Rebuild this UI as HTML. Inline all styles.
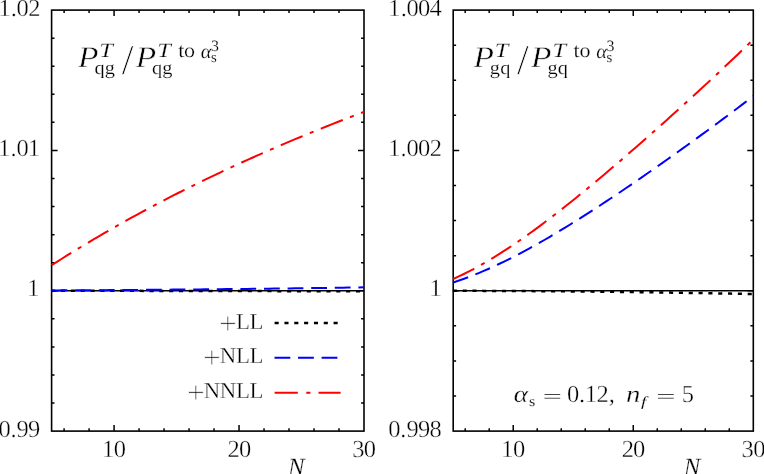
<!DOCTYPE html>
<html lang="en">
<head>
<meta charset="utf-8">
<title>Resummed splitting-function ratios</title>
<style>
html,body{margin:0;padding:0;background:#fff;}
body{width:764px;height:474px;overflow:hidden;font-family:"Liberation Serif",serif;}
svg{display:block;will-change:transform;}
svg text{font-family:"Liberation Serif",serif;fill:#000;text-rendering:geometricPrecision;stroke:#fff;}
</style>
</head>
<body>
<svg width="764" height="474" viewBox="0 0 764 474">
<rect width="764" height="474" fill="#fff"/>
<rect x="51.6" y="10.1" width="312.4" height="421" fill="none" stroke="#000" stroke-width="1.6"/>
<path d="M64.1 431.1v-2.9M64.1 10.1v2.9M89.09 431.1v-2.9M89.09 10.1v2.9M114.08 431.1v-6.0M114.08 10.1v6.0M139.07 431.1v-2.9M139.07 10.1v2.9M164.06 431.1v-2.9M164.06 10.1v2.9M189.06 431.1v-2.9M189.06 10.1v2.9M214.05 431.1v-2.9M214.05 10.1v2.9M239.04 431.1v-6.0M239.04 10.1v6.0M264.03 431.1v-2.9M264.03 10.1v2.9M289.02 431.1v-2.9M289.02 10.1v2.9M314.02 431.1v-2.9M314.02 10.1v2.9M339.01 431.1v-2.9M339.01 10.1v2.9M51.6 290.77h6M364 290.77h-6M51.6 150.43h6M364 150.43h-6M51.6 403.03h2.9M364 403.03h-2.9M51.6 374.97h2.9M364 374.97h-2.9M51.6 346.9h2.9M364 346.9h-2.9M51.6 318.83h2.9M364 318.83h-2.9M51.6 262.7h2.9M364 262.7h-2.9M51.6 234.63h2.9M364 234.63h-2.9M51.6 206.57h2.9M364 206.57h-2.9M51.6 178.5h2.9M364 178.5h-2.9M51.6 122.37h2.9M364 122.37h-2.9M51.6 94.3h2.9M364 94.3h-2.9M51.6 66.23h2.9M364 66.23h-2.9M51.6 38.17h2.9M364 38.17h-2.9" fill="none" stroke="#000" stroke-width="1.5"/>
<rect x="453.2" y="10.1" width="300.1" height="421" fill="none" stroke="#000" stroke-width="1.6"/>
<path d="M465.2 431.1v-2.9M465.2 10.1v2.9M489.21 431.1v-2.9M489.21 10.1v2.9M513.22 431.1v-6.0M513.22 10.1v6.0M537.23 431.1v-2.9M537.23 10.1v2.9M561.24 431.1v-2.9M561.24 10.1v2.9M585.24 431.1v-2.9M585.24 10.1v2.9M609.25 431.1v-2.9M609.25 10.1v2.9M633.26 431.1v-6.0M633.26 10.1v6.0M657.27 431.1v-2.9M657.27 10.1v2.9M681.28 431.1v-2.9M681.28 10.1v2.9M705.28 431.1v-2.9M705.28 10.1v2.9M729.29 431.1v-2.9M729.29 10.1v2.9M453.2 290.77h6M753.3 290.77h-6M453.2 150.43h6M753.3 150.43h-6M453.2 396.02h2.9M753.3 396.02h-2.9M453.2 360.93h2.9M753.3 360.93h-2.9M453.2 325.85h2.9M753.3 325.85h-2.9M453.2 255.68h2.9M753.3 255.68h-2.9M453.2 220.6h2.9M753.3 220.6h-2.9M453.2 185.52h2.9M753.3 185.52h-2.9M453.2 115.35h2.9M753.3 115.35h-2.9M453.2 80.27h2.9M753.3 80.27h-2.9M453.2 45.18h2.9M753.3 45.18h-2.9" fill="none" stroke="#000" stroke-width="1.5"/>
<path d="M51.6 290.77H364.0M453.2 290.77H753.3" stroke="#000" stroke-width="1.7" fill="none"/>
<path d="M51.2 290.7L364.0 291.3" fill="none" stroke="#000" stroke-width="2.5" stroke-dasharray="4.1 5.73" stroke-dashoffset="0"/>
<path d="M452.80 290.80L460.51 290.81L468.21 290.83L475.92 290.85L483.62 290.88L491.33 290.91L499.03 290.94L506.74 290.97L514.44 291.01L522.15 291.06L529.85 291.10L537.56 291.15L545.26 291.21L552.97 291.27L560.67 291.33L568.38 291.39L576.08 291.46L583.79 291.54L591.49 291.61L599.20 291.69L606.90 291.78L614.61 291.86L622.31 291.95L630.02 292.05L637.72 292.15L645.43 292.25L653.13 292.35L660.84 292.46L668.54 292.58L676.25 292.69L683.95 292.81L691.66 292.94L699.36 293.06L707.07 293.20L714.77 293.33L722.48 293.47L730.18 293.61L737.89 293.76L745.59 293.91L753.30 294.06" fill="none" stroke="#000" stroke-width="2.5" stroke-dasharray="4.1 5.73" stroke-dashoffset="0"/>
<path d="M51.60 290.40L56.89 290.38L62.19 290.36L67.48 290.33L72.78 290.30L78.07 290.28L83.37 290.25L88.66 290.22L93.96 290.19L99.25 290.16L104.55 290.13L109.84 290.09L115.14 290.06L120.43 290.02L125.73 289.99L131.02 289.95L136.32 289.91L141.61 289.87L146.91 289.83L152.20 289.79L157.50 289.75L162.79 289.71L168.09 289.67L173.38 289.62L178.68 289.58L183.97 289.53L189.27 289.48L194.56 289.43L199.86 289.38L205.15 289.33L210.45 289.28L215.74 289.23L221.04 289.18L226.33 289.12L231.63 289.07L236.92 289.01L242.22 288.95L247.51 288.89L252.81 288.84L258.10 288.77L263.40 288.71L268.69 288.65L273.99 288.59L279.28 288.52L284.58 288.46L289.87 288.39L295.17 288.33L300.46 288.26L305.76 288.19L311.05 288.12L316.35 288.05L321.64 287.98L326.94 287.90L332.23 287.83L337.53 287.76L342.82 287.68L348.12 287.60L353.41 287.53L358.71 287.45L364.00 287.37" fill="none" stroke="#0000ff" stroke-width="2.0" stroke-dasharray="15.8 7.8" stroke-dashoffset="0"/>
<path d="M453.20 282.49L458.29 280.80L463.37 279.01L468.46 277.13L473.55 275.15L478.63 273.09L483.72 270.94L488.81 268.71L493.89 266.41L498.98 264.03L504.06 261.58L509.15 259.06L514.24 256.47L519.32 253.82L524.41 251.12L529.50 248.35L534.58 245.53L539.67 242.67L544.76 239.75L549.84 236.78L554.93 233.77L560.02 230.72L565.10 227.63L570.19 224.50L575.27 221.33L580.36 218.13L585.45 214.90L590.53 211.63L595.62 208.34L600.71 205.01L605.79 201.67L610.88 198.29L615.97 194.89L621.05 191.47L626.14 188.03L631.23 184.56L636.31 181.08L641.40 177.57L646.48 174.05L651.57 170.51L656.66 166.95L661.74 163.38L666.83 159.79L671.92 156.18L677.00 152.55L682.09 148.91L687.18 145.25L692.26 141.58L697.35 137.89L702.44 134.18L707.52 130.45L712.61 126.71L717.69 122.95L722.78 119.17L727.87 115.37L732.95 111.55L738.04 107.71L743.13 103.84L748.21 99.96L753.30 96.04" fill="none" stroke="#0000ff" stroke-width="2.0" stroke-dasharray="15.8 7.8" stroke-dashoffset="0"/>
<path d="M51.60 265.22L56.89 261.85L62.19 258.52L67.48 255.21L72.78 251.94L78.07 248.70L83.37 245.50L88.66 242.32L93.96 239.17L99.25 236.06L104.55 232.97L109.84 229.92L115.14 226.89L120.43 223.89L125.73 220.93L131.02 217.99L136.32 215.08L141.61 212.19L146.91 209.34L152.20 206.51L157.50 203.71L162.79 200.93L168.09 198.18L173.38 195.46L178.68 192.76L183.97 190.09L189.27 187.44L194.56 184.82L199.86 182.22L205.15 179.64L210.45 177.09L215.74 174.56L221.04 172.06L226.33 169.58L231.63 167.11L236.92 164.68L242.22 162.26L247.51 159.86L252.81 157.49L258.10 155.13L263.40 152.80L268.69 150.48L273.99 148.19L279.28 145.91L284.58 143.65L289.87 141.41L295.17 139.19L300.46 136.99L305.76 134.81L311.05 132.64L316.35 130.49L321.64 128.35L326.94 126.23L332.23 124.13L337.53 122.04L342.82 119.97L348.12 117.91L353.41 115.87L358.71 113.84L364.00 111.83" fill="none" stroke="#ff0000" stroke-width="2.0" stroke-dasharray="23.65 7.75 4.1 7.75" stroke-dashoffset="0.5"/>
<path d="M453.20 279.00L458.29 276.69L463.37 274.25L468.46 271.70L473.55 269.03L478.63 266.25L483.72 263.38L488.81 260.40L493.89 257.33L498.98 254.17L504.06 250.92L509.15 247.59L514.24 244.18L519.32 240.70L524.41 237.15L529.50 233.53L534.58 229.84L539.67 226.10L544.76 222.30L549.84 218.44L554.93 214.53L560.02 210.58L565.10 206.57L570.19 202.53L575.27 198.44L580.36 194.31L585.45 190.15L590.53 185.95L595.62 181.73L600.71 177.47L605.79 173.18L610.88 168.86L615.97 164.52L621.05 160.15L626.14 155.76L631.23 151.35L636.31 146.91L641.40 142.46L646.48 137.98L651.57 133.49L656.66 128.98L661.74 124.45L666.83 119.90L671.92 115.34L677.00 110.75L682.09 106.15L687.18 101.53L692.26 96.89L697.35 92.23L702.44 87.56L707.52 82.86L712.61 78.14L717.69 73.40L722.78 68.64L727.87 63.85L732.95 59.04L738.04 54.20L743.13 49.33L748.21 44.43L753.30 39.50" fill="none" stroke="#ff0000" stroke-width="2.0" stroke-dasharray="23.65 7.75 4.1 7.75" stroke-dashoffset="0.2"/>
<path d="M274.6 323H338.2" stroke="#000" stroke-width="2.5" stroke-dasharray="4.1 5.73" fill="none"/>
<path d="M274.5 357.8H338.2" stroke="#0000ff" stroke-width="2" stroke-dasharray="15.8 7.75" fill="none"/>
<path d="M274.6 392.8H340.6" stroke="#ff0000" stroke-width="2" stroke-dasharray="23.2 8.5 4.1 8.1" fill="none"/>
<text x="-1.59 10.7 16.62 28.3" y="15.5" font-size="24.5" stroke-width="0.37">1.02</text>
<text x="-1.75 10.55 16.46 27.78" y="156.3" font-size="24.5" stroke-width="0.37">1.01</text>
<text x="27.28" y="296.3" font-size="24.5" stroke-width="0.37">1</text>
<text x="-1.54 10.52 16.54 28.09" y="437.1" font-size="24.5" stroke-width="0.37">0.99</text>
<text x="388.35 400.65 406.56 418.11 429.61" y="16.1" font-size="24.5" stroke-width="0.37">1.004</text>
<text x="388.26 400.55 406.47 418.02 429.7" y="156.3" font-size="24.5" stroke-width="0.37">1.002</text>
<text x="429.38" y="296.3" font-size="24.5" stroke-width="0.37">1</text>
<text x="388.31 400.37 406.39 417.94 429.38" y="437.1" font-size="24.5" stroke-width="0.37">0.998</text>
<text x="102.05 113.84" y="456.8" font-size="24.5" stroke-width="0.37">10</text>
<text x="227.53 238.94" y="456.8" font-size="24.5" stroke-width="0.37">20</text>
<text x="352.18 363.84" y="456.8" font-size="24.5" stroke-width="0.37">30</text>
<text x="501.25 513.04" y="456.8" font-size="24.5" stroke-width="0.37">10</text>
<text x="621.63 633.04" y="456.8" font-size="24.5" stroke-width="0.37">20</text>
<text x="741.48 753.14" y="456.8" font-size="24.5" stroke-width="0.37">30</text>
<text x="287.94" y="474.5" font-size="24.8" font-style="italic" stroke-width="0.25">N</text>
<text x="683.69" y="474.5" font-size="24.8" font-style="italic" stroke-width="0.25">N</text>
<text x="235.89 249.59" y="329" font-size="22.8" stroke-width="0.34">LL</text>
<text x="219.75 235.89 249.59" y="363.2" font-size="22.8" stroke-width="0.34">NLL</text>
<text x="203.65 219.75 235.89 249.59" y="398.1" font-size="22.8" stroke-width="0.34">NNLL</text>
<text x="218.95" y="333.86" font-size="31.5" stroke-width="0.75">+</text>
<text x="202.9" y="368.26" font-size="31.5" stroke-width="0.75">+</text>
<text x="187" y="403.16" font-size="31.5" stroke-width="0.75">+</text>
<text x="79.14" y="67.3" font-size="29.7" font-style="italic" transform="matrix(1.130 0 0 1 -11.41 0)" stroke-width="0.52">P</text>
<text x="100.76" y="56.8" font-size="20.4" font-style="italic" transform="matrix(1.200 0 0 1 -21.54 0)" stroke-width="0.25">T</text>
<text x="95.08 104.77" y="73.7" font-size="19.2" transform="matrix(1.060 0 0 1 -6.30 0)" stroke-width="0.20">qg</text>
<text x="121.65" y="73.58" font-size="42.5" stroke-width="0.70">/</text>
<text x="136.84" y="67.3" font-size="29.7" font-style="italic" transform="matrix(1.130 0 0 1 -18.91 0)" stroke-width="0.52">P</text>
<text x="158.56" y="56.8" font-size="20.4" font-style="italic" transform="matrix(1.200 0 0 1 -33.10 0)" stroke-width="0.25">T</text>
<text x="152.68 162.37" y="73.7" font-size="19.2" transform="matrix(1.060 0 0 1 -9.75 0)" stroke-width="0.20">qg</text>
<text x="178.78 184.2" y="57.1" font-size="20.4" transform="matrix(1.080 0 0 1 -14.90 0)" stroke-width="0.20">to</text>
<text x="200.82" y="57.6" font-size="20.4" font-style="italic" stroke-width="0.20">α</text>
<text x="211.03" y="61.95" font-size="14.8" stroke-width="0.10">s</text>
<text x="211.12" y="50.5" font-size="15.84" stroke-width="0.10">3</text>
<text x="474.54" y="67.3" font-size="29.7" font-style="italic" transform="matrix(1.130 0 0 1 -62.81 0)" stroke-width="0.52">P</text>
<text x="496.16" y="56.8" font-size="20.4" font-style="italic" transform="matrix(1.200 0 0 1 -100.62 0)" stroke-width="0.25">T</text>
<text x="490.42 500.23" y="73.7" font-size="19.2" transform="matrix(1.060 0 0 1 -30.02 0)" stroke-width="0.20">gq</text>
<text x="517.05" y="73.58" font-size="42.5" stroke-width="0.70">/</text>
<text x="532.24" y="67.3" font-size="29.7" font-style="italic" transform="matrix(1.130 0 0 1 -70.31 0)" stroke-width="0.52">P</text>
<text x="553.96" y="56.8" font-size="20.4" font-style="italic" transform="matrix(1.200 0 0 1 -112.18 0)" stroke-width="0.25">T</text>
<text x="548.02 557.83" y="73.7" font-size="19.2" transform="matrix(1.060 0 0 1 -33.48 0)" stroke-width="0.20">gq</text>
<text x="574.18 579.6" y="57.1" font-size="20.4" transform="matrix(1.080 0 0 1 -46.53 0)" stroke-width="0.20">to</text>
<text x="596.22" y="57.6" font-size="20.4" font-style="italic" stroke-width="0.20">α</text>
<text x="606.43" y="61.95" font-size="14.8" stroke-width="0.10">s</text>
<text x="606.52" y="50.5" font-size="15.84" stroke-width="0.10">3</text>
<text x="514.74" y="402" font-size="24" font-style="italic" transform="matrix(1.130 0 0 1 -67.81 0)" stroke-width="0.30">α</text>
<text x="529.27" y="405.7" font-size="14.6" transform="matrix(1.100 0 0 1 -53.22 0)" stroke-width="0.10">s</text>
<text x="547.3" y="402.24" font-size="17" transform="matrix(1.999 0 0 1 -551.40 0)" stroke-width="0.10">=</text>
<text x="566.94 579 584.67 596.6 608.83" y="402" font-size="24.5" stroke-width="0.37">0.12,</text>
<text x="627.22" y="402" font-size="24" font-style="italic" transform="matrix(1.200 0 0 1 -126.63 0)" stroke-width="0.30">n</text>
<text x="642.21" y="405.7" font-size="13.8" font-style="italic" transform="matrix(1.400 0 0 1 -258.00 0)" stroke-width="0.10">f</text>
<text x="661.35" y="402.24" font-size="17" transform="matrix(2.011 0 0 1 -673.73 0)" stroke-width="0.10">=</text>
<text x="681.71" y="402" font-size="24.5" stroke-width="0.37">5</text>
</svg>
</body>
</html>
